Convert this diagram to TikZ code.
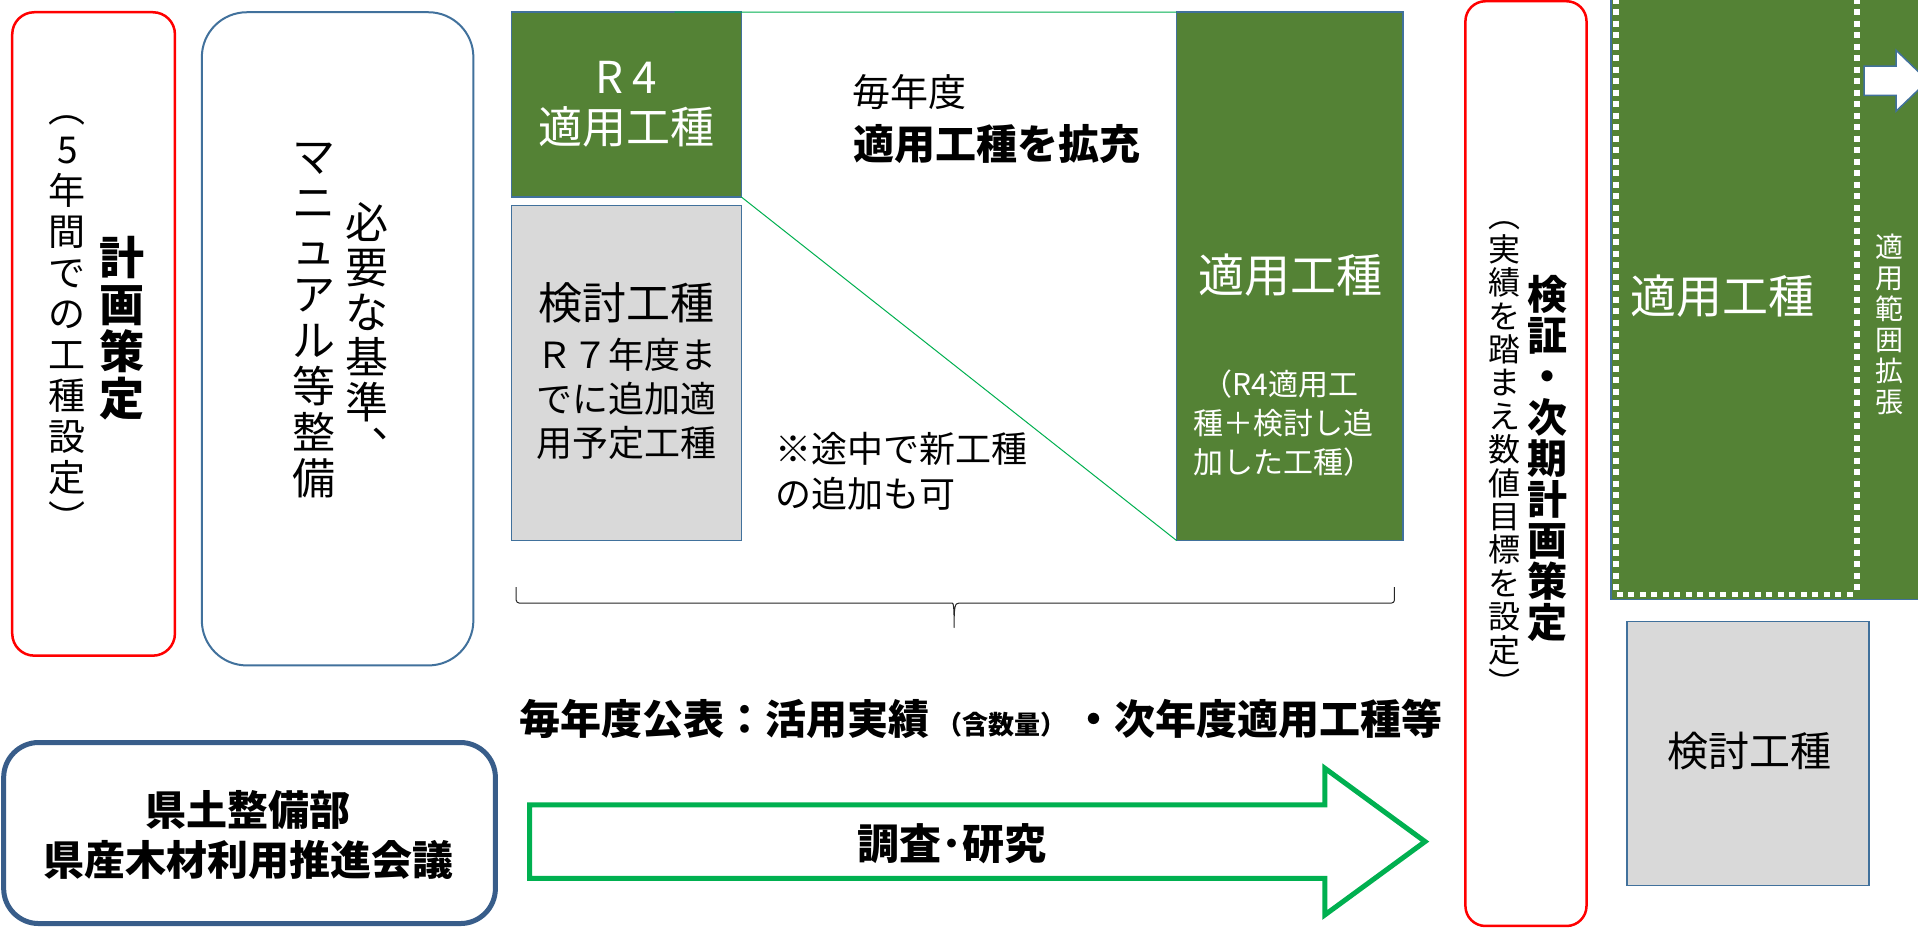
\documentclass[tikz,border=0pt]{standalone}
\usepackage{fontspec}
\setmainfont{Noto Sans CJK JP}
\usetikzlibrary{fit,calc}
\definecolor{gfill}{HTML}{548235}
\definecolor{bord}{HTML}{41719C}
\definecolor{grayfill}{HTML}{D9D9D9}
\definecolor{arrg}{HTML}{00B050}
\definecolor{dblue}{HTML}{385D8A}
\newcommand\fsz[2]{\fontsize{#1}{#2}\selectfont}
\begin{document}
\begin{tikzpicture}[x=1.2232pt,y=-1.2232pt,
  every node/.style={inner sep=0pt,outer sep=0pt},
  redbox/.style={draw=red,line width=2.5pt,rounded corners=22pt},
  greenbox/.style={draw=bord,line width=1.5pt,fill=gfill},
  graybox/.style={draw=bord,line width=1.5pt,fill=grayfill},
  wtxt/.style={text=white,align=center},
  btxt/.style={text=black,align=center},
  link/.style={draw=arrg,line width=1pt},
  wdash/.style={draw=white,line width=5.5pt,dash pattern=on 6pt off 5.5pt}]
\useasboundingbox (0,0) rectangle (1568,758);
\fill[white] (0,0) rectangle (1568,758);

% box 1
\node[redbox,fit={(10,10)(143,536)}] (plan) {};
\node[btxt,font={\fsz{45}{47}\bfseries}] (planT) at (100,268) {計\\画\\策\\定};
\node[btxt,font={\fsz{37}{41}}] (planS) at (55,265) {︵\\5\\年\\間\\で\\の\\工\\種\\設\\定\\︶};

% box 2
\node[draw=bord,line width=2pt,rounded corners=45pt,fit={(165,10)(387,544)}] (manual) {};
\node[btxt,font={\fsz{43}{45}}] (manR) at (300,272) {必\\要\\な\\基\\準\\︑};
\node[btxt,font={\fsz{43}{46}}] (manL) at (257,262) {マ\\ニ\\ュ\\ア\\ル\\等\\整\\備};

% R4 box
\node[greenbox,fit={(418,10)(606,161)}] (r4) {};
\node[wtxt,font={\fsz{44}{50}}] (r4T) at (512,85) {R 4\\適用工種};

% gray box
\node[graybox,fit={(418,168)(606,442)}] (study) {};
\node[btxt,font={\fsz{44}{44}}] (studyT) at (512,248) {検討工種};
\node[btxt,font={\fsz{36}{44}}] (studyS) at (512,326) {Ｒ７年度ま\\でに追加適\\用予定工種};

% middle texts
\node[anchor=west,font={\fsz{38}{38}}] (every) at (697,75) {毎年度};
\node[anchor=west,font={\fsz{41}{41}\bfseries}] (expand) at (698,118) {適用工種を拡充};
\node[anchor=west,align=left,font={\fsz{36}{45}}] (note) at (634,385) {※途中で新工種\\の追加も可};

% green box 2
\node[greenbox,fit={(962,10)(1147,442)}] (apply) {};
\node[wtxt,font={\fsz{46}{46}}] (applyT) at (1055,225) {適用工種};
\node[anchor=west,align=left,text=white,font={\fsz{30}{39}}] (applyS) at (976,346) {\hspace{0.3em}（R4適用工\\種＋検討し追\\加した工種）};

% links
\draw[link] ($(r4.north west)!0.71!(r4.north east)$) -- (apply.north west);
\draw[link] (r4.south east) -- (apply.south west);

% brace
\coordinate (brL) at (422,480);
\coordinate (brR) at (1140,480);
\coordinate (brTip) at (780,513);
\draw[black!85,line width=1pt,line join=round]
  (brL) [rounded corners=3pt] -- (422,493) -- (776,493) [sharp corners]
  .. controls (779.5,493) and (780,496) .. (brTip)
  .. controls (780,496) and (780.5,493) .. (784,493)
  [rounded corners=3pt] -- (1140,493) [sharp corners] -- (brR);

% publication text
\node[font={\fsz{41}{41}\bfseries}] (pub) at (802,588) {毎年度公表：活用実績\,{\fsz{26}{26}（含数量）}\,・次年度適用工種等};

% bottom left box
\node[draw=dblue,line width=5pt,rounded corners=35pt,fit={(3,607)(405,755)}] (org) {};
\node[btxt,font={\fsz{41}{50}\bfseries}] (orgT) at (203,683) {県土整備部\\県産木材利用推進会議};

% big arrow
\draw[draw=arrg,line width=5pt,fill=white,line join=miter]
  (433,658) -- (1083,658) -- (1083,628) -- (1165,688) -- (1083,748) -- (1083,718) -- (433,718) -- cycle;
\node[font={\fsz{42}{42}\bfseries}] (research) at (778,690) {調査･研究};

% red box 4
\node[redbox,rounded corners=20pt,fit={(1198,1)(1297,757)}] (verify) {};
\node[btxt,font={\fsz{40}{41}\bfseries}] (verT) at (1265,375) {検\\証\\・\\次\\期\\計\\画\\策\\定};
\node[btxt,font={\fsz{32}{33.4}}] (verS) at (1230,375) {︵\\実\\績\\を\\踏\\ま\\え\\数\\値\\目\\標\\を\\設\\定\\︶};

% right area
\fill[gfill] (1317,-5) rectangle (1575,490);
\draw[bord,line width=1.5pt] (1317,-5) -- (1317,490) -- (1575,490);
\draw[wdash] (1321,-2) -- (1321,486) -- (1518,486);
\draw[wdash] (1518,-2) -- (1518,486);
\node[wtxt,font={\fsz{46}{46}}] (nextT) at (1408,242) {適用工種};
\node[wtxt,font={\fsz{28}{31}}] (range) at (1545,265) {適\\用\\範\\囲\\拡\\張};
\draw[bord,line width=1.5pt,fill=white]
  (1524,54) -- (1550,54) -- (1550,41) -- (1576,66) -- (1550,91) -- (1550,78) -- (1524,78) -- cycle;

% gray box right
\node[graybox,fit={(1330,508)(1528,724)}] (nextStudy) {};
\node[btxt,font={\fsz{41}{41}}] (nextStudyT) at (1430,614) {検討工種};
\end{tikzpicture}
\end{document}
